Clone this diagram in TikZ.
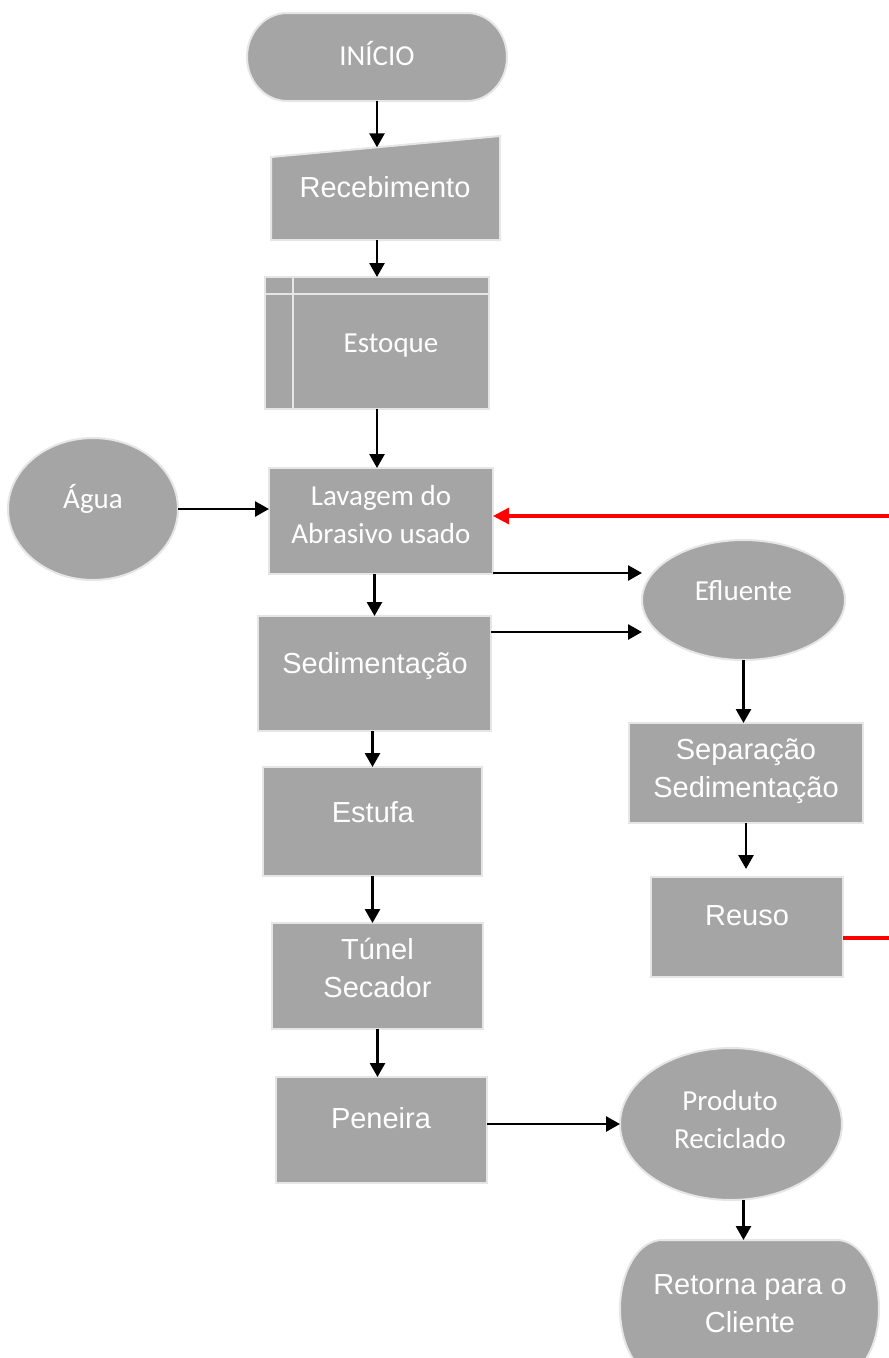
\documentclass[tikz,border=0pt]{standalone}
\usepackage{fontspec}
\usetikzlibrary{shapes.geometric, arrows.meta, calc}
\newfontfamily\calibfont{Carlito}
\newfontfamily\arialfont{Liberation Sans}
\definecolor{boxgray}{HTML}{A5A5A5}
\definecolor{edgegray}{HTML}{E6E6E6}
\definecolor{loopred}{HTML}{FF0000}

\tikzset{
  shapefill/.style={fill=boxgray, draw=edgegray, line width=2pt},
  procbox/.style={shapefill, rectangle, inner sep=0pt, outer sep=0pt},
  framebox/.style={rectangle, inner sep=0pt, outer sep=0pt, draw=none},
  oval/.style={shapefill, ellipse, inner sep=0pt, outer sep=0pt},
  lbl/.style={text=white, inner sep=0pt, anchor=base, align=center},
  cal/.style={lbl, font=\calibfont\fontsize{29}{38}\selectfont},
  ari/.style={lbl, font=\arialfont\fontsize{29}{37.5}\selectfont},
  flow/.style={draw=black, line width=2.7pt, -{Triangle[length=14pt,width=15pt]}},
  back/.style={draw=loopred, line width=3.2pt},
  backarr/.style={back, -{Triangle[length=16pt,width=16pt]}},
}

% rectangle node from its corners: style, name, x1, y1, x2, y2
\newcommand\boxnode[6]{%
  \node[#1, minimum width={#5-#3}, minimum height={#6-#4}] (#2)
    at ({(#3+#5)/2},{(#4+#6)/2}) {};}

% terminator with elliptical ends: name, cx, cy, half width, half height, end radius
\newcommand\termnode[6]{%
  \node[framebox, minimum width={2*#4}, minimum height={2*#5}] (#1) at (#2,#3) {};
  \filldraw[shapefill]
    (#2-#4+#6, #3-#5) -- (#2+#4-#6, #3-#5)
    .. controls (#2+#4-0.4477*#6, #3-#5) and (#2+#4, #3-0.5523*#5) .. (#2+#4, #3)
    .. controls (#2+#4, #3+0.5523*#5) and (#2+#4-0.4477*#6, #3+#5) .. (#2+#4-#6, #3+#5)
    -- (#2-#4+#6, #3+#5)
    .. controls (#2-#4+0.4477*#6, #3+#5) and (#2-#4, #3+0.5523*#5) .. (#2-#4, #3)
    .. controls (#2-#4, #3-0.5523*#5) and (#2-#4+0.4477*#6, #3-#5) .. cycle;}

\begin{document}
\begin{tikzpicture}[x=1pt, y=-1pt]
\useasboundingbox (0,0) rectangle (889,1358);

% ---- shapes ----
\termnode{start}{377}{57}{130}{44}{40}

\boxnode{framebox}{rec}{271}{136}{500}{240}
\filldraw[shapefill] (rec.south west) -- ($(rec.north west)+(0,21)$)
  -- (rec.north east) -- (rec.south east) -- cycle;

\boxnode{procbox}{est}{265}{277}{489}{409}
\draw[draw=edgegray, line width=2pt] ($(est.north west)+(0,17)$) -- ($(est.north east)+(0,17)$);
\draw[draw=edgegray, line width=2pt] ($(est.north west)+(28,0)$) -- ($(est.south west)+(28,0)$);

\node[oval, minimum width=170, minimum height=142] (agua) at (93,509) {};
\boxnode{procbox}{lav}{269}{468}{493}{574}
\node[oval, minimum width=203, minimum height=120] (eff) at (743.5,600) {};
\boxnode{procbox}{sed}{258}{616}{491}{731}
\boxnode{procbox}{sep}{629}{723}{863}{823}
\boxnode{procbox}{reuso}{651}{877}{843}{977}
\boxnode{procbox}{estufa}{263}{767}{482}{876}
\boxnode{procbox}{tun}{272}{923}{483}{1029}
\boxnode{procbox}{pen}{276}{1077}{487}{1183}
\node[oval, minimum width=222, minimum height=152] (prod) at (731,1124) {};
\termnode{ret}{749.5}{1309}{129.5}{69}{42}

% ---- labels (base anchor = baseline of the last line) ----
\node[cal] (start-t) at (377,65) {INÍCIO};
\node[ari] (rec-t) at (385,197) {Recebimento};
\node[cal] (est-t) at (391,352) {Estoque};
\node[cal] (agua-t) at (93,508) {Água};
\node[cal] (lav-t) at (381,543) {Lavagem do\\Abrasivo usado};
\node[cal] (eff-t) at (743.5,600) {Efluente};
\node[ari] (sed-t) at (375,673) {Sedimentação};
\node[ari] (sep-t) at (746,797) {Separação\\Sedimentação};
\node[ari] (reuso-t) at (747,925) {Reuso};
\node[ari] (estufa-t) at (373,822) {Estufa};
\node[ari] (tun-t) at (377.5,997) {Túnel\\Secador};
\node[ari] (pen-t) at (381,1128) {Peneira};
\node[cal] (prod-t) at (730,1148) {Produto\\Reciclado};
\node[ari] (ret-t) at (750,1332) {Retorna para o\\Cliente};

% ---- connectors ----
\coordinate (recin) at (377,147.3);
\draw[flow] (start.south) -- (recin);
\draw[flow] (rec.south -| est.north) -- (est.north);
\draw[flow] (est.south) -- (est.south |- lav.north);
\draw[flow] (agua.east) -- (agua.east -| lav.west);
\coordinate (lavout) at ([yshift=1pt]lav.south east);
\draw[flow] (lavout) -- (lavout -| eff.west);
\coordinate (sedout) at ([yshift=-16pt]sed.north east);
\draw[flow] (sedout) -- (sedout -| eff.west);
\draw[flow] (lav.south -| sed.north) -- (sed.north);
\draw[flow] (sed.south -| estufa.north) -- (estufa.north);
\draw[flow] (estufa.south) -- (estufa.south |- tun.north);
\draw[flow] (tun.south) -- (tun.south |- pen.north);
\coordinate (penout) at ([yshift=6pt]pen.east);
\draw[flow] (penout) -- (penout -| prod.west);
\draw[flow] (eff.south) -- (eff.south |- sep.north);
\draw[flow, shorten >=8pt] (sep.south) -- (sep.south |- reuso.north);
\coordinate (retin) at ([xshift=-6pt]ret.north);
\draw[flow] (prod.south -| retin) -- (retin);

% reuse loop back to washing, leaving the sheet on the right
\coordinate (loopin) at (889,516);
\coordinate (loopout) at (889,938);
\draw[backarr] (loopin) -- (loopin -| lav.east);
\draw[back] (loopout -| reuso.east) -- (loopout);
\end{tikzpicture}
\end{document}
